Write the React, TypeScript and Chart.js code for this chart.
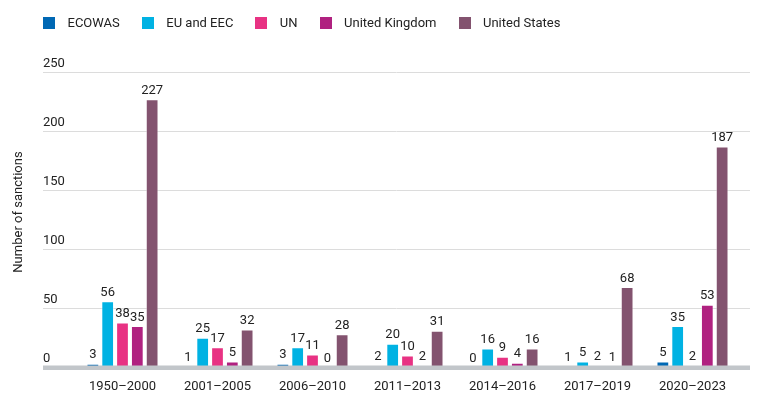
import { useEffect, useRef } from 'react';
import { Chart, registerables, Plugin } from 'chart.js';

Chart.register(...registerables);

const periods = ['1950–2000', '2001–2005', '2006–2010', '2011–2013', '2014–2016', '2017–2019', '2020–2023'];
const ecowas = [3, 1, 3, 2, 0, 1, 5];
const euEec = [56, 25, 17, 20, 16, 5, 35];
const un = [38, 17, 11, 10, 9, 2, 2];
const unitedKingdom = [35, 5, 0, 2, 4, 1, 53];
const unitedStates = [227, 32, 28, 31, 16, 68, 187];
const seriesNames = ['ECOWAS', 'EU and EEC', 'UN', 'United Kingdom', 'United States'];
const seriesValues = [ecowas, euEec, un, unitedKingdom, unitedStates];
const seriesColors = ['#0068b4', '#00b2e3', '#e83283', '#b02180', '#83536f'];
const yTicks = [0, 50, 100, 150, 200, 250];
const yTitle = 'Number of sanctions';

const FONT = 'Roboto, "Liberation Sans", sans-serif';
const TEXT = '#222222';

// gridlines, y tick labels and axis title drawn wider than the plot area
const frame: Plugin<'bar'> = {
  id: 'frame',
  beforeDatasetsDraw(chart) {
    const { ctx, chartArea } = chart;
    const y = chart.scales.y;
    const left = chartArea.left - 32;
    const right = chartArea.right + 10;
    ctx.save();
    ctx.font = `13px ${FONT}`;
    ctx.fillStyle = TEXT;
    ctx.textAlign = 'left';
    ctx.textBaseline = 'alphabetic';
    y.ticks.forEach((t) => {
      const py = Math.round(y.getPixelForValue(t.value)) + 0.5;
      if (t.value !== 0) {
        ctx.strokeStyle = '#dcdcdc';
        ctx.lineWidth = 1;
        ctx.beginPath();
        ctx.moveTo(left, py);
        ctx.lineTo(right, py);
        ctx.stroke();
      }
      ctx.fillText(String(t.value), left, py - 6);
    });
    ctx.translate(19, 212);
    ctx.rotate(-Math.PI / 2);
    ctx.textAlign = 'center';
    ctx.textBaseline = 'middle';
    ctx.fillText(yTitle, 0, 0);
    ctx.restore();
  },
  afterDatasetsDraw(chart) {
    const { ctx, chartArea } = chart;
    const y = chart.scales.y;
    const y0 = y.getPixelForValue(0);
    ctx.save();
    // thick baseline
    ctx.strokeStyle = '#c2c6ca';
    ctx.lineWidth = 4.5;
    ctx.beginPath();
    ctx.moveTo(chartArea.left - 32, y0 + 0.3);
    ctx.lineTo(chartArea.right + 10, y0 + 0.3);
    ctx.stroke();
    // value labels
    ctx.font = `13px ${FONT}`;
    ctx.fillStyle = TEXT;
    ctx.textAlign = 'center';
    ctx.textBaseline = 'alphabetic';
    chart.data.datasets.forEach((ds, di) => {
      const meta = chart.getDatasetMeta(di);
      meta.data.forEach((el, i) => {
        const v = ds.data[i] as number;
        ctx.fillText(String(v), el.x, el.y - 5.5);
      });
    });
    ctx.restore();
  },
};

export default function App() {
  const canvasRef = useRef<HTMLCanvasElement>(null);

  useEffect(() => {
    if (!canvasRef.current) return;
    const chart = new Chart(canvasRef.current, {
      type: 'bar',
      data: {
        labels: periods,
        datasets: seriesNames.map((name, i) => ({
          label: name,
          data: seriesValues[i],
          backgroundColor: seriesColors[i],
          borderColor: 'rgba(255,255,255,0.45)',
          borderWidth: 1,
          categoryPercentage: 0.78,
          barPercentage: 0.86,
        })),
      },
      options: {
        animation: false,
        responsive: true,
        maintainAspectRatio: false,
        layout: { padding: { top: 72, left: 75, right: 24, bottom: 0 } },
        plugins: {
          legend: { display: false },
          tooltip: { enabled: false },
        },
        scales: {
          x: {
            grid: { display: false, drawTicks: false },
            border: { display: false },
            ticks: {
              padding: 12,
              color: TEXT,
              font: { family: FONT, size: 13 },
              maxRotation: 0,
            },
          },
          y: {
            display: false,
            min: 0,
            max: 250,
            afterBuildTicks: (scale) => {
              scale.ticks = yTicks.map((v) => ({ value: v }));
            },
          },
        },
      },
      plugins: [frame],
    });
    return () => chart.destroy();
  }, []);

  return (
    <div style={{ position: 'fixed', left: 0, top: 0, width: 764, height: 407, background: '#fff' }}>
      <canvas ref={canvasRef} />
      <div
        style={{
          position: 'absolute',
          left: 43,
          top: 17,
          display: 'flex',
          alignItems: 'center',
          fontFamily: FONT,
          fontSize: 13,
          color: TEXT,
          lineHeight: '12px',
        }}
      >
        {seriesNames.map((name, i) => (
          <div key={name} style={{ display: 'flex', alignItems: 'center', marginRight: 22 }}>
            <span style={{ width: 12, height: 12, background: seriesColors[i], marginRight: 12.5 }} />
            <span>{name}</span>
          </div>
        ))}
      </div>
    </div>
  );
}
